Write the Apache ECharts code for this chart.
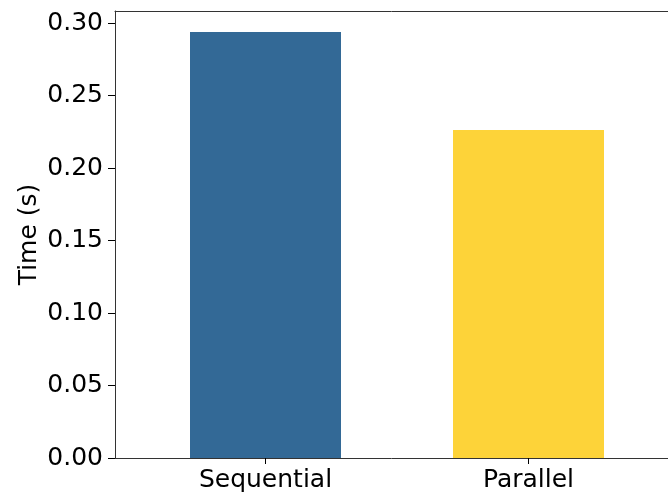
<!DOCTYPE html>
<html><head><meta charset="utf-8">
<script src="https://cdn.jsdelivr.net/npm/echarts@6/dist/echarts.min.js"></script>
<style>html,body{margin:0;padding:0;background:#fff}#c{width:668px;height:495px}</style>
</head><body><div id="c"></div>
<script>
const categories = ['Sequential', 'Parallel'];
const times = [0.2938, 0.2262];
const barColors = ['#336996', '#fdd339'];
const yTicks = [0, 0.05, 0.10, 0.15, 0.20, 0.25, 0.30];

const chart = echarts.init(document.getElementById('c'), null, {renderer: 'canvas'});
const font = 'DejaVu Sans';
const frameLine = {show: true, lineStyle: {color: '#333', width: 1}};
const hiddenParts = {axisTick: {show: false}, axisLabel: {show: false}, splitLine: {show: false}};
chart.setOption({
  animation: false,
  grid: [
    {left: 134, right: 8, top: 11, bottom: 37},
    {left: 115, right: 0, top: 11, bottom: 37}
  ],
  xAxis: [{
    type: 'category', gridIndex: 0, data: categories,
    axisLine: {show: false},
    axisTick: {show: true, alignWithLabel: true, length: 6, lineStyle: {color: '#000'}},
    axisLabel: {color: '#000', fontFamily: font, fontSize: 25, margin: 10}
  }, Object.assign({
    type: 'value', gridIndex: 1, position: 'bottom', axisLine: frameLine
  }, hiddenParts), Object.assign({
    type: 'value', gridIndex: 1, position: 'top', axisLine: frameLine
  }, hiddenParts)],
  yAxis: [{
    type: 'value', gridIndex: 0, min: 0, max: 0.3083, interval: 0.05, offset: 19,
    name: 'Time (s)', nameLocation: 'middle', nameGap: 73, nameMoveOverlap: false,
    nameTextStyle: {color: '#000', fontFamily: font, fontSize: 25},
    axisLine: {show: false},
    axisTick: {show: true, length: 7, lineStyle: {color: '#000'}, customValues: yTicks},
    splitLine: {show: false},
    axisLabel: {color: '#000', fontFamily: font, fontSize: 25, margin: 12, customValues: yTicks,
      formatter: v => v.toFixed(2)}
  }, Object.assign({
    type: 'value', gridIndex: 1, position: 'left', axisLine: frameLine
  }, hiddenParts)],
  series: [{
    type: 'bar', xAxisIndex: 0, yAxisIndex: 0,
    barWidth: 151,
    data: times.map((v, i) => ({value: v, itemStyle: {color: barColors[i]}}))
  }]
});
</script></body></html>
